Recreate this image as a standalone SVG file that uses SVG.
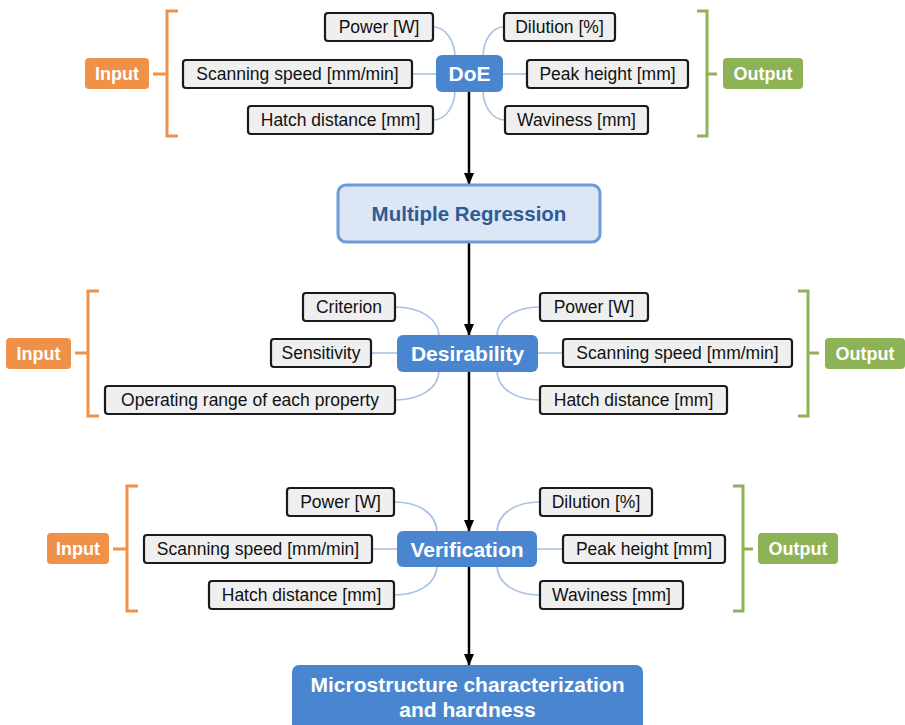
<svg xmlns="http://www.w3.org/2000/svg" width="905" height="725" viewBox="0 0 905 725">
<defs>
<style>
.lbl rect{fill:#EFEFEF;stroke:#1A1A1A;stroke-width:2.2}
.lbl text{font-family:"Liberation Sans",Arial,sans-serif;font-size:17.5px;fill:#111;text-anchor:middle}
.ctr rect{fill:#4A86D0}
.ctr text{font-family:"Liberation Sans",Arial,sans-serif;font-size:21px;font-weight:bold;fill:#fff;text-anchor:middle}
.in rect{fill:#F0914A}
.out rect{fill:#8DB356}
.in text,.out text{font-family:"Liberation Sans",Arial,sans-serif;font-size:18px;font-weight:bold;fill:#fff;text-anchor:middle}
.brO{fill:none;stroke:#F0914A;stroke-width:3}
.brG{fill:none;stroke:#8DB356;stroke-width:3}
.cv{fill:none;stroke:#A9C1E6;stroke-width:1.6}
.ar{fill:none;stroke:#000;stroke-width:2.5;marker-end:url(#ah)}
</style>
<marker id="ah" markerWidth="12" markerHeight="14" refX="11" refY="5" orient="auto" markerUnits="userSpaceOnUse" viewBox="0 0 12 10">
<path d="M0,0 L12,5 L0,10 z" fill="#000"/>
</marker>
</defs>
<rect width="905" height="725" fill="#fff"/>

<g id="connectors">
<!-- section 1 curves -->
<path class="cv" d="M433,27 C445,27 455,40 455,58"/>
<path class="cv" d="M412,74 L437,74"/>
<path class="cv" d="M433,120 C445,120 455,107 455,90"/>
<path class="cv" d="M504,27 C492,27 483,40 483,58"/>
<path class="cv" d="M527,74 L502,74"/>
<path class="cv" d="M505,120 C493,120 483,107 483,90"/>
<!-- section 2 curves -->
<path class="cv" d="M395,307 C419,307 439,318 439,337"/>
<path class="cv" d="M371,353 L399,353"/>
<path class="cv" d="M395,400 C419,400 439,389 439,370"/>
<path class="cv" d="M540,307 C516,307 497,318 497,337"/>
<path class="cv" d="M563,353 L536,353"/>
<path class="cv" d="M540,400 C516,400 497,389 497,370"/>
<!-- section 3 curves -->
<path class="cv" d="M394,502 C418,502 437,513 437,533"/>
<path class="cv" d="M372,549 L399,549"/>
<path class="cv" d="M394,595 C418,595 437,584 437,565"/>
<path class="cv" d="M540,502 C516,502 497,513 497,533"/>
<path class="cv" d="M563,549 L535,549"/>
<path class="cv" d="M540,595 C516,595 497,584 497,565"/>
<!-- brackets -->
<path class="brO" d="M178,11 H167 V136 H178 M153,74 H167"/>
<path class="brG" d="M697,11 H707 V136 H697 M707,74 H717"/>
<path class="brO" d="M99,291 H88 V416 H99 M75,353 H88"/>
<path class="brG" d="M798,291 H808 V416 H798 M808,353 H819"/>
<path class="brO" d="M138,486 H127 V611 H138 M113,549 H127"/>
<path class="brG" d="M733,486 H743 V611 H733 M743,549 H753"/>
<!-- flow arrows -->
<path class="ar" d="M469,92 V184"/>
<path class="ar" d="M469,243 V335"/>
<path class="ar" d="M469,372 V531"/>
<path class="ar" d="M469,567 V665"/>
</g>

<!-- Section 1 -->
<g id="doe" class="ctr"><rect x="436" y="55" width="67" height="37" rx="6"/><text x="469.5" y="81">DoE</text></g>
<g id="in1" class="in"><rect x="85" y="58" width="64" height="31" rx="4"/><text x="117" y="80">Input</text></g>
<g id="out1" class="out"><rect x="723" y="58" width="80" height="31" rx="4"/><text x="763" y="80">Output</text></g>
<g id="power1" class="lbl"><rect x="325" y="13" width="108" height="28" rx="3"/><text x="379" y="33">Power [W]</text></g>
<g id="scan1" class="lbl"><rect x="183" y="60" width="229" height="28" rx="3"/><text x="297.5" y="80">Scanning speed [mm/min]</text></g>
<g id="hatch1" class="lbl"><rect x="248" y="106" width="185" height="28" rx="3"/><text x="340.5" y="126">Hatch distance [mm]</text></g>
<g id="dil1" class="lbl"><rect x="504" y="13" width="111" height="28" rx="3"/><text x="559.5" y="33">Dilution [%]</text></g>
<g id="peak1" class="lbl"><rect x="527" y="60" width="161" height="28" rx="3"/><text x="607.5" y="80">Peak height [mm]</text></g>
<g id="wav1" class="lbl"><rect x="505" y="106" width="143" height="28" rx="3"/><text x="576.5" y="126">Waviness [mm]</text></g>

<!-- Multiple regression -->
<g id="mreg"><rect x="338" y="185" width="262" height="57" rx="8" fill="#DCE6F4" stroke="#6B9BD9" stroke-width="3"/><text x="469" y="221" font-family="'Liberation Sans',Arial,sans-serif" font-size="20.5" font-weight="bold" fill="#2F5A94" text-anchor="middle">Multiple Regression</text></g>

<!-- Section 2 -->
<g id="desir" class="ctr"><rect x="397" y="335" width="141" height="37" rx="6"/><text x="467.5" y="361">Desirability</text></g>
<g id="in2" class="in"><rect x="6" y="338" width="65" height="31" rx="4"/><text x="38.5" y="360">Input</text></g>
<g id="out2" class="out"><rect x="825" y="338" width="80" height="31" rx="4"/><text x="865" y="360">Output</text></g>
<g id="crit" class="lbl"><rect x="303" y="293" width="92" height="28" rx="3"/><text x="349" y="313">Criterion</text></g>
<g id="sens" class="lbl"><rect x="271" y="339" width="100" height="28" rx="3"/><text x="321" y="359">Sensitivity</text></g>
<g id="oper" class="lbl"><rect x="105" y="386" width="290" height="28" rx="3"/><text x="250" y="406">Operating range of each property</text></g>
<g id="power2" class="lbl"><rect x="540" y="293" width="108" height="28" rx="3"/><text x="594" y="313">Power [W]</text></g>
<g id="scan2" class="lbl"><rect x="563" y="339" width="229" height="28" rx="3"/><text x="677.5" y="359">Scanning speed [mm/min]</text></g>
<g id="hatch2" class="lbl"><rect x="540" y="386" width="187" height="28" rx="3"/><text x="633.5" y="406">Hatch distance [mm]</text></g>

<!-- Section 3 -->
<g id="verif" class="ctr"><rect x="397" y="531" width="140" height="36" rx="6"/><text x="467" y="557">Verification</text></g>
<g id="in3" class="in"><rect x="47" y="533" width="62" height="31" rx="4"/><text x="78" y="555">Input</text></g>
<g id="out3" class="out"><rect x="758" y="533" width="80" height="31" rx="4"/><text x="798" y="555">Output</text></g>
<g id="power3" class="lbl"><rect x="287" y="488" width="107" height="28" rx="3"/><text x="340.5" y="508">Power [W]</text></g>
<g id="scan3" class="lbl"><rect x="144" y="535" width="228" height="28" rx="3"/><text x="258" y="555">Scanning speed [mm/min]</text></g>
<g id="hatch3" class="lbl"><rect x="209" y="581" width="185" height="28" rx="3"/><text x="301.5" y="601">Hatch distance [mm]</text></g>
<g id="dil3" class="lbl"><rect x="540" y="488" width="112" height="28" rx="3"/><text x="596" y="508">Dilution [%]</text></g>
<g id="peak3" class="lbl"><rect x="563" y="535" width="162" height="28" rx="3"/><text x="644" y="555">Peak height [mm]</text></g>
<g id="wav3" class="lbl"><rect x="540" y="581" width="143" height="28" rx="3"/><text x="611.5" y="601">Waviness [mm]</text></g>

<!-- Final -->
<g id="micro" class="ctr"><rect x="292" y="665" width="351" height="66" rx="7"/><text x="467.5" y="692">Microstructure characterization</text><text x="467.5" y="717">and hardness</text></g>
</svg>
